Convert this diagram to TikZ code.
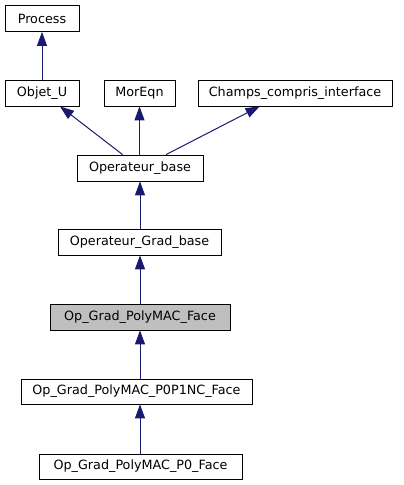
\documentclass[tikz,border=0pt]{standalone}
\usepackage{fontspec}
\setmainfont{DejaVu Sans}
\usetikzlibrary{arrows.meta,calc}
\definecolor{edgeblue}{RGB}{25,25,112}
\definecolor{hl}{RGB}{191,191,191}
\tikzset{
  cls/.style={draw=black, fill=white, line width=0.8pt, inner sep=0pt, font=\fontsize{12.8}{15}\selectfont, minimum height=26bp, anchor=center},
  inh/.style={draw=edgeblue, line width=1pt, {Triangle[length=14bp,width=10bp,fill=edgeblue]}-},
}
\begin{document}
\begin{tikzpicture}[x=1bp,y=-1bp]
\useasboundingbox (0,0) rectangle (403,485);
\node[cls, minimum width=74bp] (process) at (42,18.5) {Process};
\node[cls, minimum width=74bp] (objet) at (42,93) {Objet\_U};
\node[cls, minimum width=71bp] (moreqn) at (139.5,93) {MorEqn};
\node[cls, minimum width=194bp] (champs) at (295,93) {Champs\_compris\_interface};
\node[cls, minimum width=126bp] (opbase) at (140,168) {Operateur\_base};
\node[cls, minimum width=163bp] (opgrad) at (139.5,242) {Operateur\_Grad\_base};
\node[cls, minimum width=180bp, fill=hl] (face) at (140,317) {Op\_Grad\_PolyMAC\_Face};
\node[cls, minimum width=231bp, minimum height=25bp] (p0p1) at (136.5,391.5) {Op\_Grad\_PolyMAC\_P0P1NC\_Face};
\node[cls, minimum width=203bp, minimum height=25bp] (p0) at (140.5,466.5) {Op\_Grad\_PolyMAC\_P0\_Face};
\draw[inh] (process.south) -- (objet.north);
\draw[inh] ($(objet.south)+(18,0)$) -- ($(opbase.north west)+(46,0)$);
\draw[inh] (moreqn.south) -- (moreqn.south |- opbase.north);
\draw[inh] ($(champs.south west)+(62,0)$) -- ($(opbase.north)+(26,0)$);
\draw[inh] (opbase.south) -- (opbase.south |- opgrad.north);
\draw[inh] (opbase.south |- opgrad.south) -- (opbase.south |- face.north);
\draw[inh] (face.south) -- (face.south |- p0p1.north);
\draw[inh] (face.south |- p0p1.south) -- (face.south |- p0.north);
\end{tikzpicture}
\end{document}
